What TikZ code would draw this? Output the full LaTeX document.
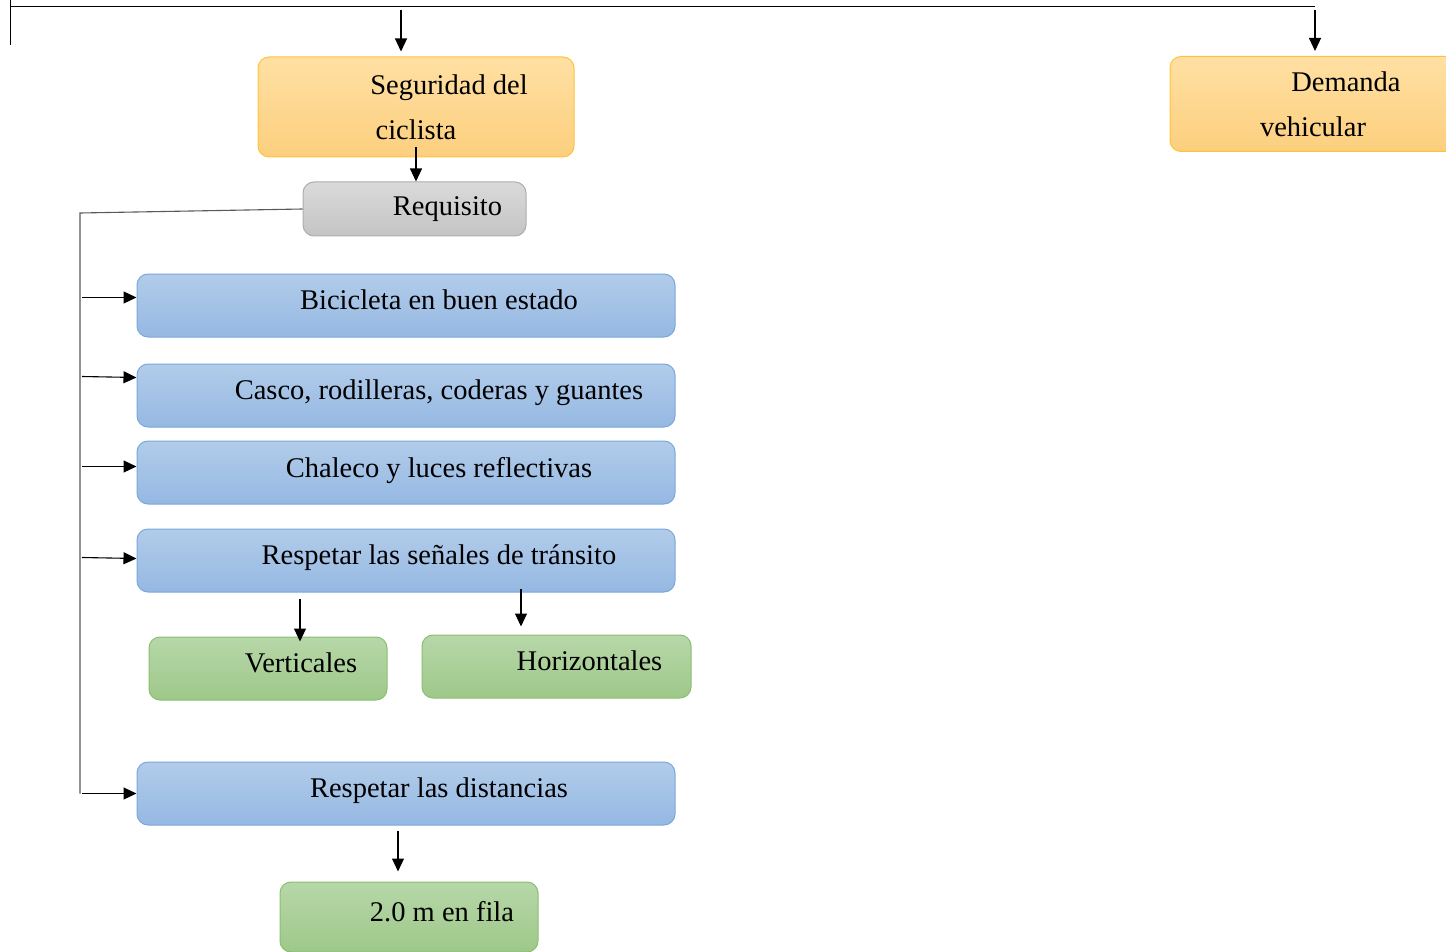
\documentclass[tikz,border=0pt]{standalone}
\usepackage{fontspec}
\setmainfont{Liberation Serif}
\usetikzlibrary{positioning,arrows.meta}

\definecolor{orangetop}{HTML}{FFE0A3}
\definecolor{orangebot}{HTML}{FCCF7E}
\definecolor{orangeline}{HTML}{FFC33A}
\definecolor{bluetop}{HTML}{B2CCEA}
\definecolor{bluebot}{HTML}{95B8E2}
\definecolor{blueline}{HTML}{7BA7DC}
\definecolor{graytop}{HTML}{DADADA}
\definecolor{graybot}{HTML}{C4C4C4}
\definecolor{grayline}{HTML}{ADADAD}
\definecolor{greentop}{HTML}{B7D7A8}
\definecolor{greenbot}{HTML}{9EC88A}
\definecolor{greenline}{HTML}{8BBF6F}

\newcommand{\indentfirst}{\hspace*{66pt}}

\begin{document}
\begin{tikzpicture}[x=1pt,y=-1pt,node distance=25pt,
	box/.style={rounded corners=11pt,line width=1pt,inner sep=4pt,
		font=\fontsize{28.5}{45}\selectfont},
	shifted/.style={execute at begin node=\indentfirst},
	orangebox/.style={box,draw=orangeline,top color=orangetop,bottom color=orangebot,align=center},
	graybox/.style={box,shifted,draw=grayline,top color=graytop,bottom color=graybot,
		minimum width=223pt,minimum height=54pt},
	bluebox/.style={box,shifted,draw=blueline,top color=bluetop,bottom color=bluebot,
		minimum width=538pt,minimum height=63pt,text depth=11pt},
	greenbox/.style={box,shifted,draw=greenline,top color=greentop,bottom color=greenbot,
		minimum height=63pt,text depth=11pt},
	arr/.style={-{Triangle[length=13pt,width=12pt]},line width=1.1pt},
	bus/.style={line width=1.1pt,black!65}]
	\useasboundingbox (0,0) rectangle (1446,952);

	\node(seg) [orangebox,minimum width=316pt,minimum height=100pt] at (416,107) {\indentfirst Seguridad del\\ciclista};
	\node(dem) [orangebox,minimum width=286pt,minimum height=95pt] at (1313,104) {\indentfirst Demanda\\vehicular};
	\node(req) [graybox,below=24pt of seg,xshift=-1.5pt] {Requisito};

	\node(b1) [bluebox] at (406,305.5) {Bicicleta en buen estado};
	\node(b2) [bluebox,below=26pt of b1] {Casco, rodilleras, coderas y guantes};
	\node(b3) [bluebox,below=13pt of b2] {Chaleco y luces reflectivas};
	\node(b4) [bluebox,below=24pt of b3] {Respetar las señales de tránsito};
	\node(ver) [greenbox,minimum width=238pt] at (268,668.5) {Verticales};
	\node(hor) [greenbox,minimum width=269pt] at (556.5,666.5) {Horizontales};
	\node(b5) [bluebox,below=169pt of b4] {Respetar las distancias};
	\node(fila) [greenbox,minimum width=258pt,minimum height=70pt,below=56pt of b5,xshift=3pt] {2.0 m en fila};

	\coordinate(ltop) at (10,0);
	\coordinate(lt) at (10,45);
	\coordinate(rt) at (1315,7);
	\coordinate(bus) at (80,213);

	\draw[line width=1pt] (ltop) -- (lt);
	\draw[line width=1pt] (ltop |- rt) -- (rt);
	\draw[arr] ([xshift=-15pt,yshift=-3pt]seg.north |- rt) -- ([xshift=-15pt,yshift=5pt]seg.north);
	\draw[arr] ([yshift=-3pt]rt) -- ([yshift=5pt]rt |- dem.north);
	\draw[arr] ([yshift=10pt]seg.south) -- (seg.south |- req.north);

	\draw[bus] (req.west) -- (bus) -- (bus |- b5.west);
	\draw[arr] ([xshift=2pt,yshift=8pt]bus |- b1.west) -- ([yshift=8pt]b1.west);
	\draw[arr] ([xshift=2pt,yshift=19pt]bus |- b2.west) -- ([yshift=18pt]b2.west);
	\draw[arr] ([xshift=2pt,yshift=6pt]bus |- b3.west) -- ([yshift=6pt]b3.west);
	\draw[arr] ([xshift=2pt,yshift=3pt]bus |- b4.west) -- ([yshift=2pt]b4.west);
	\draw[arr] ([xshift=2pt]bus |- b5.west) -- (b5.west);

	\draw[arr] ([xshift=32pt,yshift=-6pt]ver.north |- b4.south) -- ([xshift=32pt,yshift=-5pt]ver.north);
	\draw[arr] ([xshift=-35.5pt,yshift=4pt]hor.north |- b4.south) -- ([xshift=-35.5pt,yshift=8pt]hor.north);
	\draw[arr] ([xshift=-11pt,yshift=-5pt]fila.north |- b5.south) -- ([xshift=-11pt,yshift=10pt]fila.north);
\end{tikzpicture}
\end{document}
